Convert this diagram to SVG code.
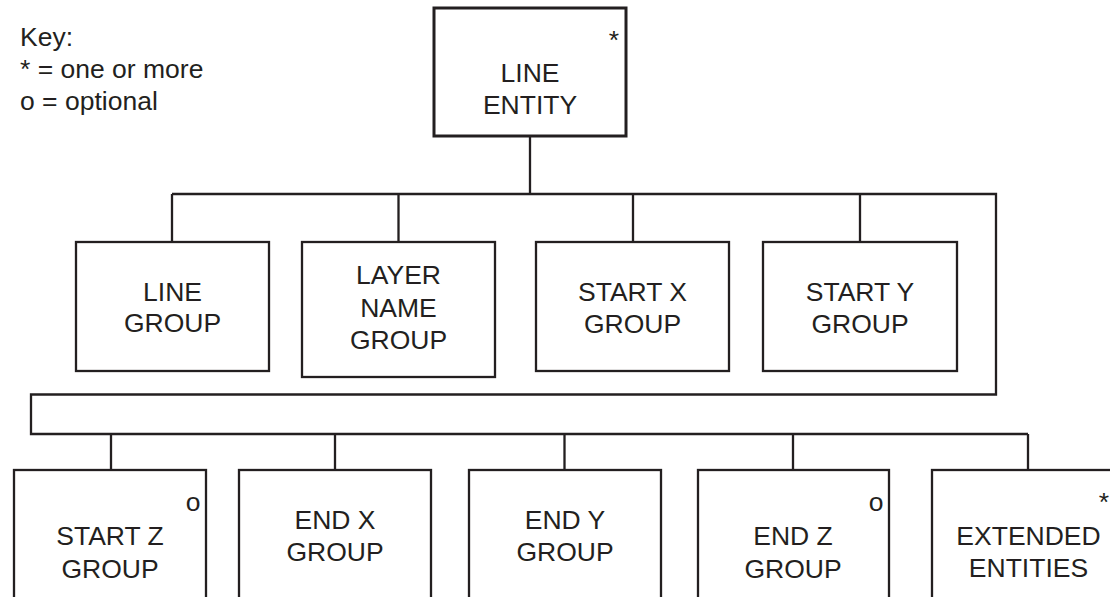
<svg xmlns="http://www.w3.org/2000/svg" width="1110" height="597" viewBox="0 0 1110 597">
<style>
.box{fill:#fff;stroke:#231f20;stroke-width:2.3}
.top{fill:#fff;stroke:#231f20;stroke-width:3}
.conn{fill:none;stroke:#231f20;stroke-width:2.3}
text{font-family:"Liberation Sans",Arial,sans-serif;font-size:26.5px;fill:#231f20}
.c{text-anchor:middle}
</style>
<rect width="1110" height="597" fill="#fff"/>
<g id="key">
<text x="20" y="46">Key:</text>
<text x="20" y="78">* = one or more</text>
<text x="20" y="110">o = optional</text>
</g>
<g id="connectors">
<path class="conn" d="M530 136V194M172 194H996V394.5H31V434H1028M172 194V242M398.5 194V242M633 194V242M860 194V242M111 434V470M335 434V470M564.5 434V470M793 434V470M1028 434V470"/>
</g>
<g id="line-entity">
<rect class="top" x="434" y="8" width="192" height="128"/>
<text class="c" x="614" y="49">*</text>
<text class="c" x="530" y="82">LINE</text>
<text class="c" x="530" y="114">ENTITY</text>
</g>
<g id="line-group">
<rect class="box" x="76" y="242" width="193" height="129"/>
<text class="c" x="172.5" y="300.5">LINE</text>
<text class="c" x="172.5" y="332">GROUP</text>
</g>
<g id="layer-name-group">
<rect class="box" x="302" y="242" width="193" height="135"/>
<text class="c" x="398.5" y="284">LAYER</text>
<text class="c" x="398.5" y="316.5">NAME</text>
<text class="c" x="398.5" y="348.5">GROUP</text>
</g>
<g id="start-x-group">
<rect class="box" x="536" y="242" width="193" height="129"/>
<text class="c" x="632.5" y="300.5">START X</text>
<text class="c" x="632.5" y="333">GROUP</text>
</g>
<g id="start-y-group">
<rect class="box" x="763" y="242" width="194" height="129"/>
<text class="c" x="860" y="300.5">START Y</text>
<text class="c" x="860" y="333">GROUP</text>
</g>
<g id="start-z-group">
<rect class="box" x="14" y="470" width="192" height="150"/>
<text class="c" x="193" y="511">o</text>
<text class="c" x="110" y="545">START Z</text>
<text class="c" x="110" y="577.5">GROUP</text>
</g>
<g id="end-x-group">
<rect class="box" x="239" y="470" width="192" height="150"/>
<text class="c" x="335" y="528.5">END X</text>
<text class="c" x="335" y="561">GROUP</text>
</g>
<g id="end-y-group">
<rect class="box" x="469" y="470" width="192" height="150"/>
<text class="c" x="565" y="528.5">END Y</text>
<text class="c" x="565" y="561">GROUP</text>
</g>
<g id="end-z-group">
<rect class="box" x="698" y="470" width="191" height="150"/>
<text class="c" x="876" y="511">o</text>
<text class="c" x="793" y="545">END Z</text>
<text class="c" x="793" y="577.5">GROUP</text>
</g>
<g id="extended-entities">
<rect class="box" x="932" y="470" width="192" height="150"/>
<text class="c" x="1104" y="511">*</text>
<text class="c" x="1028.5" y="544.5">EXTENDED</text>
<text class="c" x="1028.5" y="576.5">ENTITIES</text>
</g>
</svg>
